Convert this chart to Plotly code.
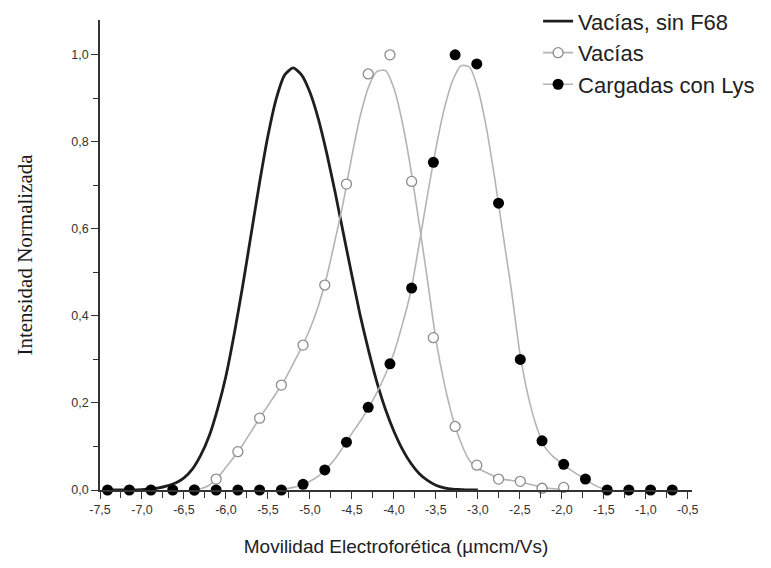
import plotly.graph_objects as go

# --- data ---
# Vacías, sin F68 (smooth curve only)
sinF68_x = [-7.4, -7.3, -7.2, -7.1, -7.0, -6.9, -6.8, -6.7, -6.6, -6.5, -6.4, -6.3, -6.2,
            -6.1, -6.0, -5.9, -5.8, -5.7, -5.6, -5.5, -5.4, -5.3, -5.2, -5.1, -5.0,
            -4.9, -4.8, -4.7, -4.6, -4.5, -4.4, -4.3, -4.2, -4.1, -4.0, -3.9, -3.8,
            -3.7, -3.6, -3.5, -3.4, -3.3, -3.2, -3.1, -3.0]
sinF68_y = [0.0, 0.0, 0.0, 0.0, 0.001, 0.0025, 0.005, 0.0095, 0.016, 0.028, 0.048, 0.08,
            0.124, 0.186, 0.262, 0.36, 0.47, 0.588, 0.706, 0.814, 0.90, 0.954, 0.97,
            0.954, 0.914, 0.853, 0.774, 0.684, 0.588, 0.493, 0.40, 0.319, 0.246, 0.185,
            0.135, 0.094, 0.062, 0.038, 0.022, 0.011, 0.005, 0.002, 0.001, 0.0, 0.0]

# Vacías: measured points
vac_x = [-6.376, -6.117, -5.858, -5.599, -5.340, -5.082, -4.823, -4.565, -4.306, -4.047,
         -3.789, -3.530, -3.271, -3.013, -2.754, -2.495, -2.236, -1.978]
vac_y = [0.0, 0.025, 0.088, 0.165, 0.241, 0.333, 0.471, 0.703, 0.956, 1.0,
         0.709, 0.35, 0.146, 0.057, 0.025, 0.02, 0.004, 0.006]
# Vacías: fitted curve
vacfit_x = [-6.4, -6.3, -6.2, -6.1, -6.0, -5.9, -5.8, -5.7, -5.6, -5.5, -5.4, -5.3, -5.2,
            -5.1, -5.0, -4.9, -4.8, -4.7, -4.6, -4.5, -4.4, -4.3, -4.2, -4.1, -4.0,
            -3.9, -3.8, -3.7, -3.6, -3.5, -3.4, -3.3, -3.2, -3.1, -3.0, -2.9, -2.8,
            -2.7, -2.6, -2.5, -2.4, -2.3, -2.2, -2.1, -2.0]
vacfit_y = [0.0, 0.003, 0.011, 0.028, 0.052, 0.077, 0.104, 0.134, 0.165, 0.194, 0.223,
            0.253, 0.29, 0.327, 0.37, 0.423, 0.49, 0.575, 0.664, 0.768, 0.86, 0.927,
            0.962, 0.964, 0.923, 0.845, 0.739, 0.614, 0.482, 0.346, 0.245, 0.166, 0.108,
            0.068, 0.05, 0.04, 0.031, 0.025, 0.022, 0.019, 0.014, 0.009, 0.005, 0.003, 0.002]

# Cargadas con Lys: measured points
lys_x = [-7.410, -7.151, -6.893, -6.634, -6.376, -6.117, -5.858, -5.599, -5.340, -5.082,
         -4.823, -4.565, -4.306, -4.047, -3.789, -3.530, -3.271, -3.013, -2.754, -2.495,
         -2.236, -1.978, -1.719, -1.460, -1.202, -0.943, -0.685]
lys_y = [0.0, 0.0, 0.0, 0.0, 0.0, 0.0, 0.0, 0.0, 0.0, 0.013,
         0.046, 0.11, 0.19, 0.29, 0.464, 0.753, 1.0, 0.979, 0.659, 0.30,
         0.113, 0.059, 0.025, 0.0, 0.0, 0.0, 0.0]
# Cargadas con Lys: fitted curve
lysfit_x = [-5.4, -5.3, -5.2, -5.1, -5.0, -4.9, -4.8, -4.7, -4.6, -4.5, -4.4, -4.3, -4.2,
            -4.1, -4.0, -3.9, -3.8, -3.7, -3.6, -3.5, -3.4, -3.3, -3.2, -3.1, -3.0,
            -2.9, -2.8, -2.7, -2.6, -2.5, -2.4, -2.3, -2.2, -2.1, -2.0, -1.9, -1.8,
            -1.7, -1.6, -1.5, -1.4]
lysfit_y = [0.0, 0.002, 0.006, 0.011, 0.02, 0.032, 0.05, 0.072, 0.1, 0.13, 0.158, 0.19,
            0.225, 0.266, 0.315, 0.38, 0.455, 0.564, 0.678, 0.785, 0.876, 0.941, 0.975,
            0.972, 0.922, 0.834, 0.717, 0.587, 0.458, 0.315, 0.215, 0.145, 0.098, 0.076,
            0.061, 0.047, 0.034, 0.022, 0.01, 0.002, 0.0]

x_tickvals = [-7.5, -7.0, -6.5, -6.0, -5.5, -5.0, -4.5, -4.0, -3.5, -3.0, -2.5, -2.0, -1.5, -1.0, -0.5]
x_ticktext = ["-7,5", "-7,0", "-6,5", "-6,0", "-5,5", "-5,0", "-4,5", "-4,0", "-3,5",
              "-3,0", "-2,5", "-2,0", "-1,5", "-1,0", "-0,5"]
y_tickvals = [0.0, 0.2, 0.4, 0.6, 0.8, 1.0]
y_ticktext = ["0,0", "0,2", "0,4", "0,6", "0,8", "1,0"]

GRAY = "#b4b4b4"
DARK = "#1e1e1e"

fig = go.Figure()

fig.add_trace(go.Scatter(
    x=sinF68_x, y=sinF68_y, mode="lines", name="Vacías, sin F68",
    line=dict(color=DARK, width=2.8, shape="spline", smoothing=0.6), cliponaxis=False))

fig.add_trace(go.Scatter(
    x=vacfit_x, y=vacfit_y, mode="lines", showlegend=False,
    line=dict(color=GRAY, width=1.6, shape="spline", smoothing=0.6)))
fig.add_trace(go.Scatter(
    x=vac_x, y=vac_y, mode="markers", showlegend=False, cliponaxis=False,
    marker=dict(symbol="circle", size=10, color="white",
                line=dict(color="#8c8c8c", width=1.3))))

fig.add_trace(go.Scatter(
    x=lysfit_x, y=lysfit_y, mode="lines", showlegend=False,
    line=dict(color=GRAY, width=1.6, shape="spline", smoothing=0.6)))
fig.add_trace(go.Scatter(
    x=lys_x, y=lys_y, mode="markers", showlegend=False, cliponaxis=False,
    marker=dict(symbol="circle", size=11, color="black",
                line=dict(color="black", width=0))))

# legend-only entries (line + marker symbols)
fig.add_trace(go.Scatter(
    x=[None], y=[None], mode="lines+markers", name="Vacías",
    line=dict(color=GRAY, width=1.6),
    marker=dict(symbol="circle", size=10, color="white",
                line=dict(color="#8c8c8c", width=1.3))))
fig.add_trace(go.Scatter(
    x=[None], y=[None], mode="lines+markers", name="Cargadas con Lys",
    line=dict(color=GRAY, width=1.6),
    marker=dict(symbol="circle", size=11, color="black")))

axis_common = dict(
    showline=True, linecolor="#333333", linewidth=1.5, mirror=False,
    ticks="outside", tickcolor="#333333", tickwidth=1.3, ticklen=7,
    showgrid=False, zeroline=False,
    tickfont=dict(family="Liberation Sans, Arial, sans-serif", size=12.5, color="#333333"),
)

fig.update_xaxes(
    **axis_common,
    range=[-7.5, -0.45], tickvals=x_tickvals, ticktext=x_ticktext,
    minor=dict(dtick=0.25, tick0=-7.5, ticks="outside", ticklen=6,
               tickcolor="#333333", tickwidth=1.2),
    title=dict(text="Movilidad Electroforética (µmcm/Vs)", standoff=24,
               font=dict(family="Liberation Sans, Arial, sans-serif", size=19, color="#222222")),
)
fig.update_yaxes(
    **axis_common,
    range=[0, 1.08], tickvals=y_tickvals, ticktext=y_ticktext,
    minor=dict(dtick=0.1, tick0=0, ticks="outside", ticklen=5,
               tickcolor="#333333", tickwidth=1.2),
    title=dict(text="Intensidad Normalizada", standoff=33,
               font=dict(family="Liberation Serif, Times New Roman, serif", size=21, color="#1a1a1a")),
)

fig.update_layout(
    width=771, height=568,
    margin=dict(l=100, r=79, t=20, b=78, autoexpand=False),
    plot_bgcolor="white", paper_bgcolor="white",
    legend=dict(x=0.74, y=1.042, xanchor="left", yanchor="top",
                bgcolor="rgba(255,255,255,0)", borderwidth=0,
                font=dict(family="Liberation Sans, Arial, sans-serif", size=22, color="#222222"),
                tracegroupgap=0, itemwidth=30),
    showlegend=True,
)

fig.write_html("out.html")
